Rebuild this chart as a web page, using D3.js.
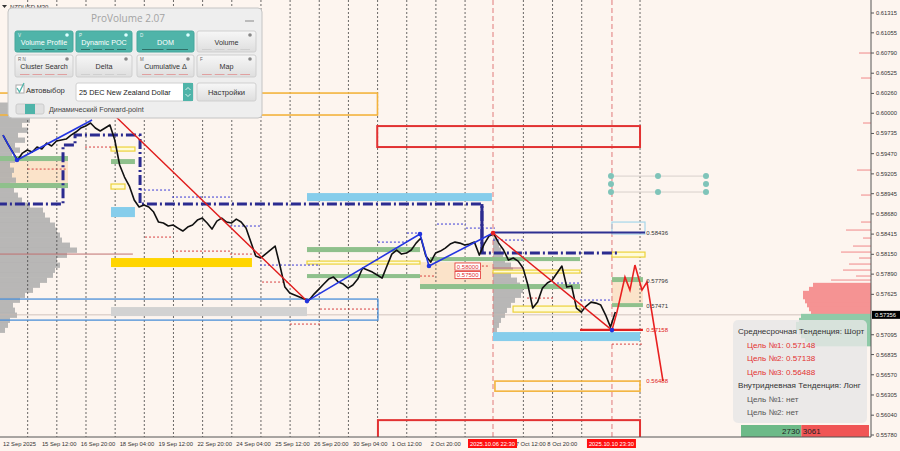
<!DOCTYPE html>
<html><head><meta charset="utf-8">
<script src="https://cdn.jsdelivr.net/npm/d3@7/dist/d3.min.js"></script>
<style>html,body{margin:0;padding:0;background:#fdf5ef;overflow:hidden}svg{display:block}</style>
</head><body>
<svg id="chart" width="900" height="451"></svg>
<script>
// ---------------- DATA ----------------
const priceStepHours = 4;
const priceValues = [0.59714,0.59596,0.59491,0.59386,0.59478,0.59518,0.59491,0.59557,0.59531,0.59609,
0.59570,0.59636,0.59649,0.59662,0.59714,0.59754,0.59806,0.59832,0.59872,0.59806,
0.59767,0.59806,0.59846,0.59649,0.59321,0.59163,0.59045,0.58862,0.58770,0.58796,
0.58770,0.58704,0.58573,0.58560,0.58521,0.58534,0.58494,0.58455,0.58507,0.58534,
0.58599,0.58625,0.58560,0.58481,0.58586,0.58625,0.58573,0.58560,0.58612,0.58573,
0.58494,0.58310,0.58127,0.58101,0.58153,0.58206,0.58258,0.57996,0.57720,0.57642,
0.57615,0.57589,0.57563,0.57550,0.57628,0.57694,0.57760,0.57825,0.57851,0.57786,
0.57760,0.57707,0.57747,0.57825,0.57970,0.57943,0.57917,0.57878,0.57838,0.57996,
0.58153,0.58206,0.58153,0.58166,0.58206,0.58297,0.58363,0.58127,0.58048,0.58166,
0.58192,0.58232,0.58284,0.58310,0.58297,0.58271,0.58284,0.58310,0.58140,0.58284,
0.58389,0.58416,0.58297,0.58206,0.58074,0.58101,0.58061,0.57970,0.57747,0.57445,
0.57523,0.57707,0.57773,0.57812,0.57904,0.57996,0.57720,0.57734,0.57445,0.57392,
0.57471,0.57523,0.57510,0.57484,0.57353,0.57195,0.57392];

const yTickValues = [0.61315,0.61055,0.60790,0.60525,0.60260,0.60000,0.59735,0.59470,0.59205,0.58945,0.58680,0.58415,0.58150,0.57890,0.57625,0.57095,0.56835,0.56570,0.56305,0.56040,0.55780];
const currentPrice = 0.57356;
const xLabelHours = [0,32,64,96,128,160,192,224,256,288,320,352,422,448];
const xLabelTexts = ["12 Sep 2025","15 Sep 12:00","16 Sep 20:00","18 Sep 04:00","19 Sep 12:00","22 Sep 20:00","24 Sep 04:00","25 Sep 12:00","26 Sep 20:00","30 Sep 04:00","1 Oct 12:00","2 Oct 20:00","7 Oct 12:00","8 Oct 20:00"];
const markerHours = [403.3, 501.2];
const markerTexts = ["2025.10.06 22:30","2025.10.10 23:30"];

// zigzag (blue) and trend (red)
const zigzag1 = [[0,0.59714],[11.5,0.59386],[73.3,0.59911]];
const zigzag2 = [[250.2,0.57536],[343.2,0.58416],[350.6,0.57996],[403.3,0.58429]];
const redTrend1 = [[89.7,0.60003],[250.2,0.57536]];
const redTrend2 = [[403.3,0.58429],[501.2,0.57156]];
const forecastHours = [501.2,505.3,511.9,516,520.1,525.9,530,543.2];
const forecastPrices = [0.57156,0.57392,0.57851,0.57681,0.58009,0.57681,0.57786,0.56488];
const blueDots = [[11.5,0.59386],[250.2,0.57536],[343.2,0.58416],[350.6,0.57996],[501.2,0.57156]];
const redDots = [[403.3,0.58429]];

// dynamic POC step line
const dynPocHours  = [-5,49.4,49.4,59.3,59.3,112.8,112.8,394.2,394.2,505.3];
const dynPocPrices = [0.58809,0.58809,0.59583,0.59583,0.59714,0.59714,0.58809,0.58809,0.58166,0.58166];

// zones [h0,h1,p0,p1]
const greenZones = [[-5,53.5,0.59439,0.59373],[-5,53.5,0.59085,0.59019],[88.9,108.6,0.59399,0.59334],
 [250.2,343.2,0.58245,0.58179],[250.2,343.2,0.57891,0.57838],[343.2,474.9,0.57760,0.57694],
 [351.4,474.9,0.58114,0.58061],[501.2,526.7,0.57851,0.57786],[501.2,526.7,0.57510,0.57458]];
const peachZones = [[-5,53.5,0.59373,0.59085],[343.2,403.3,0.58048,0.57720],[501.2,526.7,0.57786,0.57510]];
const goldZones = [[88.9,204.9,0.58101,0.57983]];
const skyZones = [[88.9,108.6,0.58770,0.58638],[250.2,402.4,0.58953,0.58848],[403.3,524.3,0.57130,0.57012]];
const greyZones = [[88.9,250.2,0.57458,0.57340]];
const yellowBoxes = [[88.9,108.6,0.59557,0.59504],[88.9,100.4,0.59072,0.59006],[250.2,343.2,0.58061,0.58022],
 [403.3,474.9,0.57943,0.57904],[419.8,474.9,0.57471,0.57392],[501.2,528.4,0.58179,0.58114]];
const orangeBoxes = [[-5,308.2,0.60265,0.59977],[404.9,524.3,0.56487,0.56355]];
const redBoxes = [[308,524.3,0.59832,0.59557],[308.6,524.3,0.55975,0.5570]];
const steelBoxes = [[-5,308.6,0.57563,0.57287]];
const paleBlueBoxes = [[501.2,528.4,0.58573,0.58416]];

// dotted segments [h0,h1,price]
const blueDotted = [[112.8,139.1,0.58993],[139.1,186.8,0.58901],[186.8,211.5,0.58521],[211.5,260.9,0.58009],
 [308.6,332.5,0.58310],[332.5,343.2,0.58429],[357.2,381,0.58547],[381,404.9,0.58494],[403.3,429.6,0.58337],
 [452.7,474.9,0.57773],[474.9,499.5,0.57550]];
const redDotted = [[67.5,88.9,0.59557],[20.3,52.7,0.59268],[116.9,139.1,0.58376],[139.1,186.8,0.58192],
 [186.8,211.5,0.58153],[213.2,236.2,0.57786],[236.2,260.9,0.57235],[260.9,308.6,0.57432],[343.2,356.4,0.57865],
 [381,400.8,0.57996],[431.3,452.7,0.57576],[501.2,526.7,0.56972]];
const pocLines = [[-5,106.9,0.58153],[403.3,428,0.57970]];

// level lines
const navyLevel = [403.3,528.4,0.58436];
const redLevel = [474.9,526.7,0.57158];
const levelLabelTexts = ["0.58436","0.57796","0.57471","0.57158","0.56488"];
const levelLabelPrices = [0.58436,0.57796,0.57471,0.57158,0.56488];
const levelLabelColors = ["#333","#333","#333","#e02020","#e02020"];
const boxLabelTexts = ["0.58000","0.57500"];
const boxLabelPrices = [0.57989,0.57878];

// volume profiles
const leftProfileLevels = [0.60108,0.60042,0.59977,0.59911,0.59846,0.59780,0.59714,0.59649,0.59583,0.59518,
 0.59452,0.59386,0.59321,0.59255,0.59190,0.59124,0.59058,0.58993,0.58927,0.58862,0.58796,0.58730,0.58665,
 0.58599,0.58534,0.58468,0.58403,0.58337,0.58271,0.58206,0.58140,0.58074,0.58009,0.57943,0.57878,0.57812,
 0.57747,0.57681,0.57615,0.57550,0.57484,0.57418,0.57353,0.57287,0.57222,0.57156];
const leftProfileVol = [12,20,25,30,22,28,18,25,15,20,12,15,10,14,12,16,10,14,18,22,30,43,45,50,55,57,60,62,70,77,
 67,57,60,55,53,47,40,33,25,20,13,15,17,10,8,5];
const midProfileLevels = [0.58337,0.58271,0.58206,0.58140,0.58074,0.58009,0.57943,0.57878,0.57812,0.57747,
 0.57681,0.57615,0.57550,0.57484,0.57418,0.57353,0.57287,0.57222,0.57156];
const midProfileVol = [4,6,8,10,12,18,20,18,24,27,30,28,22,18,14,12,8,6,4];
const rightSellLevels = [0.60790,0.60462,0.59872,0.59255,0.58927,0.58573,0.58468,0.58363,0.58258,0.58179,0.58101,0.58022,0.57943,0.57865,0.57812];
const rightSellVol = [12,10,8,14,10,10,25,8,18,30,12,22,28,15,40];
const rightBlockLevels = [0.57747,0.57694,0.57642,0.57589,0.57536,0.57484,0.57432,0.57379];
const rightBlockVol = [58,62,68,68,66,64,62,60];
const rightBuyLevels = [0.57340,0.57287,0.57235,0.57182,0.57130,0.57077,0.57025,0.56972];
const rightBuyVol = [70,72,75,75,72,70,66,60];

// teal markers
const tealHours = [500.4,539.1,578.6];
const tealRowPrices = [0.59176,0.59072,0.58967];

// info panel
const infoTexts = ["Среднесрочная Тенденция: Шорт","Цель №1: 0.57148","Цель №2: 0.57138","Цель №3: 0.56488",
 "Внутридневная Тенденция: Лонг","Цель №1: нет","Цель №2: нет"];
const infoKinds = ["head","red","red","red","head","grey","grey"];
const buyVolume = 2730, sellVolume = 3061;

// ProVolume panel
const pvLabels = ["Volume Profile","Dynamic POC","DOM","Volume","Cluster Search","Delta","Cumulative Δ","Map"];
const pvKeys = ["V","P","D","","R   N","","M","F"];
const pvActive = [true,true,true,false,false,false,false,false];

// ---------------- DRAW ----------------
const svg = d3.select("#chart");
const PR = 871, PB = 437;
const x = d3.scaleLinear().domain([0,24]).range([3,32.16]);
const y = d3.scaleLinear().domain([0.55780,0.61315]).range([435,13]);
const vol = d3.scaleLinear().domain([0,100]).range([0,100]);
const FONT = "'Liberation Sans', Arial, sans-serif";

svg.append("rect").attr("width",900).attr("height",451).attr("fill","#fdf5ef");
const defs = svg.append("defs");
defs.append("clipPath").attr("id","plot").append("rect")
  .attr("x",0).attr("y",0).attr("width",PR).attr("height",PB);
const g = svg.append("g").attr("clip-path","url(#plot)");

function zones(arr, fill, stroke, sw, op){
  g.append("g").selectAll("rect").data(arr).enter().append("rect")
   .attr("x",d=>x(d[0])).attr("width",d=>x(d[1])-x(d[0]))
   .attr("y",d=>y(Math.max(d[2],d[3]))).attr("height",d=>Math.abs(y(d[2])-y(d[3])))
   .attr("fill",fill).attr("fill-opacity",op==null?1:op)
   .attr("stroke",stroke||"none").attr("stroke-width",sw||1);
}
function segs(arr, color, sw, dash){
  g.append("g").selectAll("line").data(arr).enter().append("line")
   .attr("x1",d=>x(d[0])).attr("x2",d=>x(d[1]))
   .attr("y1",d=>y(d[2])).attr("y2",d=>y(d[2]))
   .attr("stroke",color).attr("stroke-width",sw).attr("stroke-dasharray",dash||null);
}
const line = d3.line().x(d=>x(d[0])).y(d=>y(d[1]));

// peach areas
zones(peachZones,"#fbe3c9");

// left volume profile
const lpH = Math.abs(y(leftProfileLevels[0])-y(leftProfileLevels[1]));
g.append("g").selectAll("rect").data(leftProfileLevels).enter().append("rect")
  .attr("x",0).attr("y",d=>y(d)-lpH/2).attr("height",lpH+0.3)
  .attr("width",(d,i)=>vol(leftProfileVol[i])).attr("fill","#ababab").attr("fill-opacity",0.85);
// middle profile
const mpH = Math.abs(y(midProfileLevels[0])-y(midProfileLevels[1]));
g.append("g").selectAll("rect").data(midProfileLevels).enter().append("rect")
  .attr("x",x(403.3)).attr("y",d=>y(d)-mpH/2).attr("height",mpH+0.3)
  .attr("width",(d,i)=>vol(midProfileVol[i])).attr("fill","#ababab").attr("fill-opacity",0.85);

// grid: day separators
const dayHours = d3.range(22).map(k=>20.3+24*k);
g.append("g").selectAll("line").data(dayHours.filter((d,i)=>i!==16 && i!==20)).enter().append("line")
  .attr("x1",d=>x(d)).attr("x2",d=>x(d)).attr("y1",0).attr("y2",PB)
  .attr("stroke","#444").attr("stroke-width",0.8).attr("stroke-dasharray","2,2");
g.append("g").selectAll("line").data(markerHours).enter().append("line")
  .attr("x1",d=>x(d)).attr("x2",d=>x(d)).attr("y1",0).attr("y2",PB)
  .attr("stroke","#e07a7a").attr("stroke-width",1).attr("stroke-dasharray","5,3");

// current price line
g.append("line").attr("x1",0).attr("x2",PR).attr("y1",y(currentPrice)).attr("y2",y(currentPrice))
  .attr("stroke","#c8b8b0").attr("stroke-width",0.8);

// zones
zones(greenZones,"#8fc08c");
zones(goldZones,"#ffd500");
zones(skyZones,"#86cdeb");
zones(greyZones,"#d2d2d2");
zones(yellowBoxes,"#fffbd8","#ecd23a",1.2);
zones(orangeBoxes,"none","#f3b33d",1.6);
zones(redBoxes,"none","#e23232",2);
zones(steelBoxes,"none","#4a8fd8",1.3);
zones(paleBlueBoxes,"none","#a6d6ea",1.2);

// dotted segments
segs(blueDotted,"#3b3bd6",1,"2,2");
segs(redDotted,"#d84040",1,"2,2");
segs(pocLines,"#c07070",1);

// dynamic POC
g.append("path").datum(dynPocHours.map((h,i)=>[h,dynPocPrices[i]])).attr("d",line)
  .attr("fill","none").attr("stroke","#2b2b90").attr("stroke-width",3).attr("stroke-dasharray","10,3,2,3");
g.append("line").attr("x1",x(394.2)).attr("x2",x(394.2)).attr("y1",y(0.58809)).attr("y2",y(0.58166))
  .attr("stroke","#2b2b90").attr("stroke-width",3);

// level lines
segs([navyLevel],"#2e3192",2);
segs([redLevel],"#e02020",2.2);

// price line
g.append("path").datum(priceValues.map((p,i)=>[i*priceStepHours,p])).attr("d",line)
  .attr("fill","none").attr("stroke","#111").attr("stroke-width",1.6).attr("stroke-linejoin","round");

// trend lines
[redTrend1,redTrend2].forEach(t=>g.append("path").datum(t).attr("d",line)
  .attr("fill","none").attr("stroke","#e01c1c").attr("stroke-width",1.4));
[zigzag1,zigzag2].forEach(t=>g.append("path").datum(t).attr("d",line)
  .attr("fill","none").attr("stroke","#2436e0").attr("stroke-width",1.6));
g.append("path").datum(forecastHours.map((h,i)=>[h,forecastPrices[i]])).attr("d",line)
  .attr("fill","none").attr("stroke","#e82020").attr("stroke-width",1.6);
g.append("g").selectAll("circle").data(blueDots).enter().append("circle")
  .attr("cx",d=>x(d[0])).attr("cy",d=>y(d[1])).attr("r",2.3).attr("fill","#2233dd");
g.append("g").selectAll("circle").data(redDots).enter().append("circle")
  .attr("cx",d=>x(d[0])).attr("cy",d=>y(d[1])).attr("r",2.3).attr("fill","#e82020");

// level labels
g.append("g").selectAll("text").data(levelLabelTexts).enter().append("text")
  .attr("x",x(529.5)).attr("y",(d,i)=>y(levelLabelPrices[i])).attr("dy","0.35em")
  .attr("font-family",FONT).attr("font-size",6).attr("fill",(d,i)=>levelLabelColors[i]).text(d=>d);
const bl = g.append("g").selectAll("g").data(boxLabelTexts).enter().append("g");
bl.append("rect").attr("x",x(372)).attr("y",(d,i)=>y(boxLabelPrices[i])-3.6).attr("width",x(393)-x(372)).attr("height",7.2)
  .attr("fill","#fff").attr("stroke","#e03030").attr("stroke-width",0.8);
bl.append("text").attr("x",x(373.5)).attr("y",(d,i)=>y(boxLabelPrices[i])).attr("dy","0.35em")
  .attr("font-family",FONT).attr("font-size",6).attr("fill","#e03030").text(d=>d);

// teal markers
tealRowPrices.filter((p,i)=>i!==1).forEach(p=>g.append("line").attr("x1",x(tealHours[0])).attr("x2",x(tealHours[2]))
  .attr("y1",y(p)).attr("y2",y(p)).attr("stroke","#d8d0cc").attr("stroke-width",1));
tealHours.forEach((h,j)=>tealRowPrices.forEach((p,i)=>{
  if(j===1 && i===1) return;
  g.append("circle").attr("cx",x(h)).attr("cy",y(p)).attr("r",3).attr("fill","#7fc4b9");
}));

// right profile (from axis leftwards)
function rightRows(levels, vols, color, hgt, op){
  g.append("g").selectAll("rect").data(levels).enter().append("rect")
   .attr("x",(d,i)=>PR-vol(vols[i])).attr("width",(d,i)=>vol(vols[i]))
   .attr("y",d=>y(d)-hgt/2).attr("height",hgt).attr("fill",color).attr("fill-opacity",op);
}
rightRows(rightSellLevels,rightSellVol,"#f29a9a",1.5,0.8);
const rbH = Math.abs(y(rightBlockLevels[0])-y(rightBlockLevels[1]))+0.4;
rightRows(rightBlockLevels,rightBlockVol,"#f59393",rbH,1);
rightRows(rightBuyLevels,rightBuyVol,"#8fcaa8",rbH,1);

// info panel
const ip = svg.append("g");
ip.append("rect").attr("x",733).attr("y",320).attr("width",134).attr("height",103).attr("rx",5)
  .attr("fill","#e6e6e6").attr("fill-opacity",0.82);
ip.selectAll("text").data(infoTexts).enter().append("text")
  .attr("x",(d,i)=>infoKinds[i]==="head"?738:747).attr("y",(d,i)=>334+i*13.5)
  .attr("font-family",FONT).attr("font-size",8.1)
  .attr("fill",(d,i)=>infoKinds[i]==="red"?"#e33232":(infoKinds[i]==="head"?"#333":"#555")).text(d=>d);
const vtot = d3.scaleLinear().domain([0,buyVolume+sellVolume]).range([741,869]);
ip.append("rect").attr("x",vtot(0)).attr("y",425).attr("width",vtot(buyVolume)-vtot(0)).attr("height",12).attr("fill","#6dba88");
ip.append("rect").attr("x",vtot(buyVolume)).attr("y",425).attr("width",vtot(buyVolume+sellVolume)-vtot(buyVolume)).attr("height",12).attr("fill","#f05555");
ip.append("text").attr("x",vtot(buyVolume)-1.5).attr("y",434).attr("text-anchor","end")
  .attr("font-family",FONT).attr("font-size",8).attr("fill","#222").text(buyVolume);
ip.append("text").attr("x",vtot(buyVolume)+1.5).attr("y",434)
  .attr("font-family",FONT).attr("font-size",8).attr("fill","#222").text(sellVolume);

// axes
const ax = svg.append("g");
ax.append("line").attr("x1",PR).attr("x2",PR).attr("y1",0).attr("y2",PB).attr("stroke","#555").attr("stroke-width",1);
ax.append("line").attr("x1",0).attr("x2",PR).attr("y1",PB).attr("y2",PB).attr("stroke","#555").attr("stroke-width",1);
ax.selectAll(".yt").data(yTickValues).enter().append("line")
  .attr("x1",PR).attr("x2",PR+3).attr("y1",d=>y(d)).attr("y2",d=>y(d)).attr("stroke","#555");
ax.selectAll(".yl").data(yTickValues).enter().append("text")
  .attr("x",PR+5).attr("y",d=>y(d)).attr("dy","0.35em").attr("font-family",FONT).attr("font-size",5.8)
  .attr("fill","#333").text(d=>d.toFixed(5));
ax.append("rect").attr("x",PR+1).attr("y",y(currentPrice)-4).attr("width",29).attr("height",8).attr("fill","#000");
ax.append("text").attr("x",PR+4).attr("y",y(currentPrice)).attr("dy","0.35em").attr("font-family",FONT)
  .attr("font-size",5.8).attr("fill","#fff").text(currentPrice.toFixed(5));
ax.selectAll(".xl").data(xLabelTexts).enter().append("text")
  .attr("x",(d,i)=>x(xLabelHours[i])).attr("y",446).attr("font-family",FONT).attr("font-size",5.8)
  .attr("fill","#333").text(d=>d);
const mk = ax.selectAll(".mk").data(markerTexts).enter().append("g");
mk.append("rect").attr("x",(d,i)=>x(markerHours[i])-25).attr("y",439).attr("width",49).attr("height",9).attr("fill","#ff1010");
mk.append("text").attr("x",(d,i)=>x(markerHours[i])-0.5).attr("y",446).attr("text-anchor","middle")
  .attr("font-family",FONT).attr("font-size",5.8).attr("fill","#fff").text(d=>d);

// title
svg.append("path").attr("d","M2,5 L7,5 L4.5,8 Z").attr("fill","#333");
svg.append("text").attr("x",10).attr("y",9).attr("font-family",FONT).attr("font-size",6).attr("fill","#333").text("NZDUSD,M30");

// ProVolume panel
const pv = svg.append("g");
const grad = defs.append("linearGradient").attr("id","btn").attr("x1",0).attr("x2",0).attr("y1",0).attr("y2",1);
grad.append("stop").attr("offset","0%").attr("stop-color","#f7f7f7");
grad.append("stop").attr("offset","100%").attr("stop-color","#dedede");
pv.append("rect").attr("x",8).attr("y",8).attr("width",254).attr("height",110).attr("rx",4)
  .attr("fill","#eeeeee").attr("stroke","#c4c4c4");
pv.append("text").attr("x",128).attr("y",22).attr("text-anchor","middle").attr("font-family","'Open Sans',sans-serif")
  .attr("font-size",10).attr("fill","#a3a3a3").text("ProVolume 2.07");
pv.append("line").attr("x1",245).attr("x2",254).attr("y1",21).attr("y2",21).attr("stroke","#999").attr("stroke-width",1.2);
const colX = [15,76,137,197], colW = [58,56,57,59], rowY = [31,55], rowH = [21,22];
pvLabels.forEach((lab,i)=>{
  const c=i%4, r=Math.floor(i/4), bx=colX[c], by=rowY[r], bw=colW[c], bh=rowH[r];
  const act=pvActive[i];
  pv.append("rect").attr("x",bx).attr("y",by).attr("width",bw).attr("height",bh).attr("rx",2)
    .attr("fill",act?"#4fb4a9":"url(#btn)").attr("stroke",act?"#47a79c":"#cfcfcf");
  pv.append("text").attr("x",bx+bw/2).attr("y",by+bh/2+3.2).attr("text-anchor","middle")
    .attr("font-family",FONT).attr("font-size",7.2).attr("fill",act?"#fff":"#333").text(lab);
  if(pvKeys[i]) pv.append("text").attr("x",bx+3).attr("y",by+5.5).attr("font-family",FONT).attr("font-size",4.5)
    .attr("fill",act?"#e8f6f4":"#666").text(pvKeys[i]);
  pv.append("circle").attr("cx",bx+bw-6).attr("cy",by+4).attr("r",1.8).attr("fill",act?"#dff":"#888");
  const n = (i===2)?2:4;
  for(let k=0;k<n;k++){
    const sx = bx+4+k*(bw-8)/n;
    pv.append("line").attr("x1",sx+1).attr("x2",sx+(bw-8)/n-2).attr("y1",by+bh-2.5).attr("y2",by+bh-2.5)
      .attr("stroke",act?"#2f6f68":(i===3||i===5)?"#cfcfcf":"#e0a0a0").attr("stroke-width",1);
  }
});
pv.append("rect").attr("x",16).attr("y",85).attr("width",8).attr("height",8).attr("fill","#fff").attr("stroke","#aaa");
pv.append("path").attr("d","M17,88 L19.5,92 L24,83").attr("fill","none").attr("stroke","#4fb4a9").attr("stroke-width",1.3);
pv.append("text").attr("x",26).attr("y",92.5).attr("font-family",FONT).attr("font-size",7.6).attr("fill","#333").text("Автовыбор");
pv.append("rect").attr("x",76).attr("y",83).attr("width",117).attr("height",18).attr("rx",2).attr("fill","#fff").attr("stroke","#d0d0d0");
pv.append("rect").attr("x",183).attr("y",83).attr("width",10).attr("height",18).attr("fill","#4fb4a9");
pv.append("path").attr("d","M185.5,90 L188,87.5 L190.5,90 M185.5,94 L188,96.5 L190.5,94").attr("fill","none").attr("stroke","#fff").attr("stroke-width",0.8);
pv.append("text").attr("x",79).attr("y",95).attr("font-family",FONT).attr("font-size",7.3).attr("fill","#222").text("25 DEC New Zealand Dollar");
pv.append("rect").attr("x",197).attr("y",83).attr("width",59).attr("height",18).attr("rx",2).attr("fill","url(#btn)").attr("stroke","#cfcfcf");
pv.append("text").attr("x",226.5).attr("y",95).attr("text-anchor","middle").attr("font-family",FONT).attr("font-size",7.6).attr("fill","#333").text("Настройки");
pv.append("rect").attr("x",16).attr("y",104).attr("width",28).attr("height",10).attr("rx",2).attr("fill","#e0e0e0").attr("stroke","#ccc");
pv.append("rect").attr("x",25).attr("y",104).attr("width",10).attr("height",10).attr("fill","#4fb4a9");
pv.append("text").attr("x",49).attr("y",112).attr("font-family",FONT).attr("font-size",7.2).attr("fill","#444").text("Динамический Forward-point");
</script>
</body></html>
